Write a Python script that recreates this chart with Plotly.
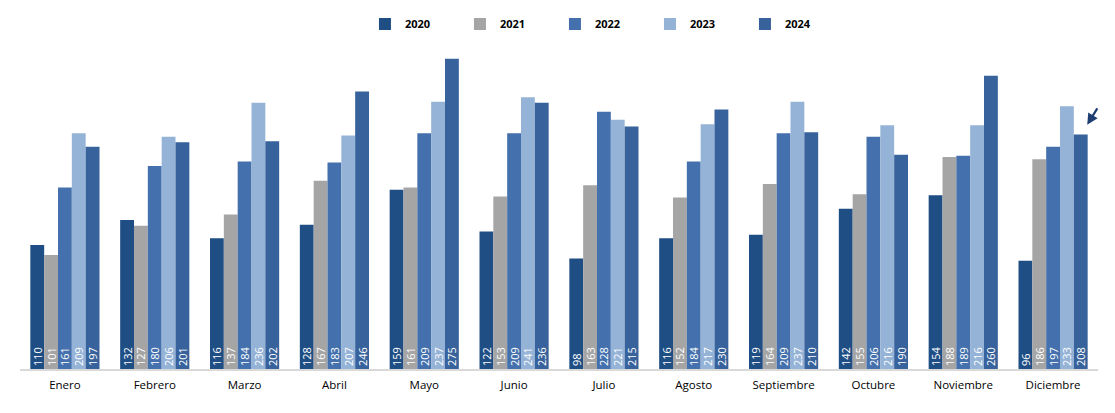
import plotly.graph_objects as go

months = ["Enero", "Febrero", "Marzo", "Abril", "Mayo", "Junio", "Julio",
          "Agosto", "Septiembre", "Octubre", "Noviembre", "Diciembre"]
years = ["2020", "2021", "2022", "2023", "2024"]
v2020 = [110, 132, 116, 128, 159, 122, 98, 116, 119, 142, 154, 96]
v2021 = [101, 127, 137, 167, 161, 153, 163, 152, 164, 155, 188, 186]
v2022 = [161, 180, 184, 183, 209, 209, 228, 184, 209, 206, 189, 197]
v2023 = [209, 206, 236, 207, 237, 241, 221, 217, 237, 216, 216, 233]
v2024 = [197, 201, 202, 246, 275, 236, 215, 230, 210, 190, 260, 208]
series = [v2020, v2021, v2022, v2023, v2024]
colors = ["#1F4E84", "#A5A5A5", "#4471AD", "#95B3D7", "#37629C"]

fig = go.Figure()
for name, vals, col in zip(years, series, colors):
    fig.add_trace(go.Bar(
        name=name, x=months, y=vals,
        marker=dict(color=col, line=dict(width=0)),
        text=[str(v) for v in vals],
        textposition="inside", insidetextanchor="start", textangle=-90,
        textfont=dict(color="white", size=11, family="Open Sans"),
        hoverinfo="skip",
    ))

fig.add_annotation(
    xref="paper", yref="paper", x=0.990, y=0.682, text="",
    showarrow=True, arrowhead=2, arrowsize=1, arrowwidth=2.2,
    arrowcolor="#1F3F73", ax=11, ay=-18, axref="pixel", ayref="pixel",
)

fig.update_layout(
    width=1115, height=413,
    margin=dict(l=20, r=17, t=10, b=44),
    barmode="group", bargap=0.23, bargroupgap=0,
    plot_bgcolor="white", paper_bgcolor="white",
    uniformtext=dict(minsize=11, mode="show"),
    font=dict(family="Open Sans", color="#000000", size=11),
    legend=dict(orientation="h", x=0.32, xanchor="left", y=0.961, yanchor="middle",
                entrywidth=50, entrywidthmode="pixels", itemwidth=30,
                font=dict(size=11, family="Open Sans", color="#000000", weight="bold"),
                itemsizing="constant", traceorder="normal"),
    xaxis=dict(showline=True, linecolor="#D9D9D9", linewidth=1.5, ticks="",
               ticklabelstandoff=4,
               tickfont=dict(size=11.5, color="#000000"), showgrid=False),
    yaxis=dict(range=[0, 317.4], visible=False, showgrid=False, zeroline=False),
)

fig.write_html("out.html", config={"displayModeBar": False},
               post_script="document.body.style.margin='0';")
